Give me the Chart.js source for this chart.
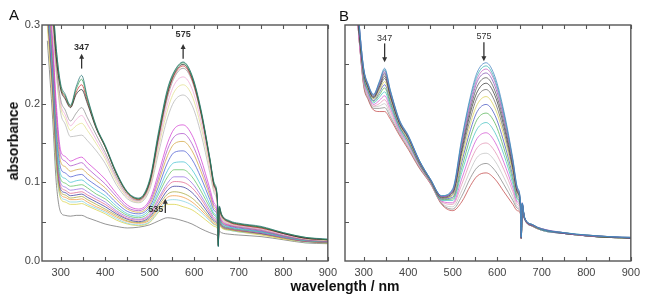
<!DOCTYPE html>
<html>
<head>
<meta charset="utf-8">
<script src="https://cdn.jsdelivr.net/npm/chart.js@4.4.1/dist/chart.umd.min.js"></script>
<style>
  html, body { margin: 0; padding: 0; background: #fff; }
  #fig { position: relative; width: 645px; height: 294px; overflow: hidden; font-family: "Liberation Sans", Arial, sans-serif; }
  .box { position: absolute; top: 0; height: 294px; }
  .lbl { position: absolute; color: #111; white-space: nowrap; line-height: 1; }
  #ytitle { left: 13px; top: 141px; font-size: 14px; font-weight: bold; transform: translate(-50%, -50%) rotate(-90deg); }
  #xtitle { left: 345px; top: 279px; font-size: 14px; font-weight: bold; transform: translateX(-50%); }
</style>
</head>
<body>
<div id="fig">
  <div class="box" style="left:0;width:342px"><canvas id="chartA"></canvas></div>
  <div class="box" style="left:342px;width:303px"><canvas id="chartB"></canvas></div>
  <div class="lbl" style="left:9px;top:7px;font-size:15px">A</div>
  <div class="lbl" style="left:339px;top:8px;font-size:15px">B</div>
  <div class="lbl" id="ytitle">absorbance</div>
  <div class="lbl" id="xtitle">wavelength / nm</div>
</div>
<script>
// wavelength grid (nm) shared by every spectrum
const W = [270, 282, 290, 300, 310, 322, 335, 347, 360, 380, 400, 425, 450, 475, 500, 520, 540, 555, 575, 595, 615, 635, 645, 652, 654, 656, 661, 680, 700, 750, 800, 850, 900];

// panel A: titration spectra, top to bottom at 575 nm
const A01 = [.42,.33,.27,.225,.212,.198,.222,.236,.208,.171,.147,.113,.088,.080,.104,.165,.219,.241,.253,.236,.193,.131,.099,.079,.018,.070,.060,.051,.048,.044,.036,.030,.028];
const A02 = [.41,.33,.27,.222,.210,.197,.219,.231,.206,.170,.146,.112,.087,.079,.102,.162,.217,.240,.252,.235,.191,.130,.097,.078,.020,.068,.059,.050,.047,.043,.036,.030,.027];
const A03 = [.40,.32,.26,.218,.206,.195,.212,.218,.200,.168,.145,.111,.087,.079,.101,.160,.214,.238,.250,.233,.190,.129,.096,.077,.019,.069,.059,.050,.047,.043,.035,.029,.027];
const A04 = [.40,.32,.26,.220,.208,.196,.215,.224,.203,.169,.145,.111,.086,.078,.100,.158,.212,.236,.248,.231,.188,.128,.095,.076,.020,.067,.058,.049,.046,.042,.035,.029,.027];
const A05 = [.39,.31,.25,.205,.192,.178,.188,.195,.182,.160,.138,.107,.084,.077,.098,.155,.208,.233,.245,.229,.186,.126,.094,.075,.022,.066,.057,.049,.046,.042,.035,.029,.027];
const A06 = [.39,.31,.25,.200,.186,.172,.180,.185,.174,.154,.134,.104,.082,.076,.096,.150,.200,.224,.234,.219,.178,.122,.091,.073,.023,.064,.056,.048,.045,.041,.034,.029,.027];
const A07 = [.38,.30,.24,.195,.181,.166,.172,.175,.166,.149,.130,.101,.081,.075,.094,.145,.192,.215,.224,.210,.171,.118,.089,.071,.024,.063,.055,.047,.045,.041,.034,.028,.026];
const A08 = [.38,.30,.24,.188,.174,.158,.159,.160,.153,.140,.124,.097,.079,.074,.091,.138,.182,.203,.211,.198,.162,.112,.086,.069,.025,.062,.054,.047,.044,.040,.033,.028,.026];
const A09 = [.37,.28,.20,.140,.133,.127,.130,.132,.125,.115,.104,.086,.071,.066,.078,.112,.150,.168,.173,.160,.130,.092,.073,.062,.026,.058,.052,.046,.044,.040,.033,.028,.026];
const A10 = [.36,.27,.19,.134,.127,.121,.123,.125,.118,.108,.098,.082,.068,.064,.075,.106,.142,.158,.162,.149,.121,.087,.070,.060,.027,.057,.051,.045,.043,.039,.032,.027,.025];
const A11 = [.35,.26,.18,.126,.120,.114,.116,.117,.111,.102,.093,.078,.066,.062,.072,.101,.134,.149,.152,.140,.114,.083,.067,.058,.028,.056,.050,.045,.043,.039,.032,.027,.025];
const A12 = [.35,.25,.17,.118,.112,.107,.109,.110,.104,.096,.088,.074,.063,.060,.069,.095,.125,.138,.140,.129,.106,.078,.064,.056,.028,.055,.049,.044,.042,.038,.032,.027,.025];
const A13 = [.34,.24,.16,.110,.105,.100,.102,.103,.098,.090,.083,.070,.060,.057,.066,.089,.115,.125,.126,.116,.096,.072,.060,.053,.029,.054,.048,.043,.041,.037,.031,.026,.025];
const A14 = [.34,.24,.15,.104,.099,.095,.096,.097,.093,.085,.079,.067,.058,.055,.063,.085,.107,.116,.116,.107,.089,.068,.058,.051,.029,.053,.047,.042,.040,.037,.031,.026,.024];
const A15 = [.33,.23,.15,.099,.094,.090,.091,.092,.088,.081,.075,.064,.056,.053,.060,.080,.099,.107,.107,.099,.083,.064,.055,.050,.030,.052,.046,.042,.040,.036,.030,.026,.024];
const A16 = [.33,.23,.14,.095,.090,.086,.087,.088,.084,.078,.072,.062,.054,.052,.058,.077,.095,.101,.100,.093,.079,.061,.053,.048,.030,.051,.046,.041,.039,.036,.030,.025,.024];
const A17 = [.32,.22,.14,.091,.087,.083,.084,.085,.081,.075,.069,.060,.053,.050,.056,.073,.090,.095,.094,.087,.074,.058,.051,.047,.030,.050,.045,.041,.039,.035,.030,.025,.024];
const A18 = [.32,.22,.13,.088,.084,.080,.081,.082,.078,.072,.066,.058,.051,.049,.054,.070,.085,.088,.086,.080,.069,.055,.049,.045,.031,.049,.044,.040,.038,.035,.029,.025,.023];
const A19 = [.31,.21,.13,.085,.081,.078,.078,.079,.075,.069,.064,.056,.050,.048,.052,.067,.081,.083,.081,.075,.065,.053,.047,.044,.031,.048,.043,.040,.038,.034,.029,.025,.023];
const A20 = [.31,.21,.12,.082,.078,.075,.075,.076,.072,.067,.062,.054,.048,.046,.050,.064,.077,.078,.076,.071,.062,.051,.046,.043,.031,.047,.043,.039,.037,.034,.029,.024,.023];
const A21 = [.30,.20,.12,.079,.075,.072,.072,.073,.070,.065,.060,.052,.047,.045,.049,.062,.072,.072,.069,.065,.057,.048,.044,.041,.031,.046,.042,.039,.037,.033,.028,.024,.023];
const A22 = [.28,.18,.10,.062,.058,.057,.058,.058,.055,.051,.047,.044,.042,.043,.046,.051,.055,.054,.051,.047,.041,.036,.034,.032,.028,.038,.036,.034,.033,.031,.027,.023,.022];

// panel B: decay spectra, top to bottom at 575 nm
const B01 = [.45,.36,.30,.245,.225,.212,.228,.245,.217,.180,.160,.128,.104,.083,.092,.155,.210,.240,.252,.234,.190,.130,.094,.076,.030,.074,.056,.046,.041,.036,.033,.031,.030];
const B02 = [.45,.36,.30,.244,.224,.211,.227,.243,.216,.179,.159,.128,.104,.083,.091,.153,.207,.236,.248,.230,.187,.128,.093,.076,.031,.073,.056,.046,.040,.036,.033,.031,.030];
const B03 = [.44,.36,.30,.244,.224,.211,.226,.242,.215,.179,.159,.127,.104,.082,.090,.150,.203,.232,.244,.227,.184,.127,.092,.075,.030,.074,.055,.045,.041,.036,.032,.031,.030];
const B04 = [.44,.36,.30,.243,.223,.210,.225,.240,.214,.178,.158,.127,.103,.082,.089,.148,.199,.228,.239,.222,.181,.125,.091,.075,.031,.073,.056,.046,.040,.035,.033,.031,.029];
const B05 = [.44,.35,.29,.242,.222,.209,.223,.238,.212,.177,.158,.127,.103,.082,.088,.144,.194,.222,.233,.216,.176,.122,.090,.074,.030,.072,.055,.045,.040,.036,.032,.030,.030];
const B06 = [.44,.35,.29,.241,.221,.208,.221,.235,.210,.176,.157,.126,.103,.081,.087,.140,.189,.215,.226,.210,.171,.119,.088,.073,.029,.073,.055,.045,.041,.035,.033,.031,.029];
const B07 = [.44,.35,.29,.239,.220,.207,.219,.232,.208,.175,.156,.126,.103,.080,.085,.136,.182,.208,.218,.202,.165,.116,.087,.072,.030,.072,.055,.046,.040,.036,.032,.030,.029];
const B08 = [.43,.35,.29,.238,.219,.206,.216,.228,.206,.174,.154,.125,.102,.080,.083,.130,.175,.199,.209,.194,.159,.112,.085,.071,.029,.071,.055,.045,.040,.035,.032,.030,.029];
const B09 = [.43,.35,.29,.236,.217,.204,.214,.224,.203,.172,.153,.124,.102,.079,.081,.125,.167,.190,.199,.185,.151,.108,.083,.070,.030,.072,.054,.045,.040,.035,.032,.031,.029];
const B10 = [.43,.35,.29,.234,.216,.203,.211,.220,.200,.171,.152,.123,.101,.078,.079,.118,.158,.180,.188,.175,.143,.103,.080,.069,.029,.071,.055,.044,.040,.035,.032,.030,.029];
const B11 = [.43,.35,.29,.233,.214,.201,.208,.215,.197,.169,.150,.123,.101,.077,.077,.112,.148,.168,.176,.163,.135,.098,.078,.067,.029,.071,.054,.045,.039,.035,.032,.030,.029];
const B12 = [.43,.34,.28,.230,.212,.199,.204,.210,.194,.167,.149,.122,.100,.076,.074,.104,.137,.156,.163,.151,.125,.093,.075,.066,.028,.070,.055,.044,.040,.035,.032,.030,.029];
const B13 = [.42,.34,.28,.228,.210,.197,.200,.205,.190,.165,.147,.121,.100,.075,.072,.097,.127,.144,.150,.139,.116,.088,.072,.064,.029,.070,.054,.044,.039,.035,.032,.030,.029];
const B14 = [.42,.34,.28,.226,.209,.196,.197,.200,.186,.164,.145,.120,.099,.074,.069,.089,.116,.132,.137,.127,.106,.082,.069,.063,.028,.071,.054,.044,.039,.035,.032,.030,.029];
const B15 = [.42,.34,.28,.224,.207,.194,.194,.195,.183,.162,.144,.119,.099,.073,.066,.082,.106,.119,.124,.115,.097,.077,.067,.061,.028,.070,.054,.044,.039,.035,.032,.030,.029];
const B16 = [.42,.34,.28,.222,.205,.192,.190,.190,.180,.160,.142,.118,.098,.072,.064,.075,.096,.108,.112,.104,.088,.072,.064,.060,.028,.070,.054,.044,.039,.035,.032,.030,.029];

const spectraA = [A01, A02, A03, A04, A05, A06, A07, A08, A09, A10, A11, A12, A13, A14, A15, A16, A17, A18, A19, A20, A21, A22];
const spectraB = [B01, B02, B03, B04, B05, B06, B07, B08, B09, B10, B11, B12, B13, B14, B15, B16];

const colorsA = ['#1f6f6f', '#2e9a4a', '#222222', '#cc2a2a', '#8c8c8c', '#eea6d6', '#e2e08a', '#b4b4b4', '#d23ad2', '#a848c8', '#d0a23a',
  '#4656d0', '#3fc0d0', '#5cc05c', '#9368e0', '#e0608a', '#34349a', '#a5a535', '#f0963e', '#7fd0e2', '#d8d040', '#6e6e6e'];
const colorsB = ['#4080c0', '#30b0b0', '#c060c0', '#8050b0', '#505050', '#303030', '#606060', '#d8d050', '#4050c0', '#50b050',
  '#40c0c0', '#d050d0', '#e090b0', '#c0c0c0', '#808080', '#c04040'];

// tick marks
const xTickMarks = [300, 350, 400, 450, 500, 550, 600, 650, 700, 750, 800, 850, 900];
const yTickMarks = [0.05, 0.1, 0.15, 0.2, 0.25];

const notesA = [
  { nm: 347, text: '347', ty: 0.272, from: 0.2446, to: 0.2636, bold: true },
  { nm: 575, text: '575', ty: 0.288, from: 0.257, to: 0.276, bold: true },
  { nm: 535, text: '535', ty: 0.065, from: 0.061, to: 0.079, bold: true, side: 'left' }
];
const notesB = [
  { nm: 347, text: '347', ty: 0.283, from: 0.2766, to: 0.2526 },
  { nm: 570, text: '575', ty: 0.2855, from: 0.278, to: 0.254 }
];

spectraA.concat(spectraB).forEach((s, i) => { if (s.length !== W.length) console.error('bad length', i, s.length); });

const tickFont = { family: '"Liberation Sans Narrow", "Liberation Sans", Arial, sans-serif', size: 11 };

// inward tick marks, frame and arrow labels, placed through the chart's scales
const frameTicks = {
  id: 'frameTicks',
  afterDatasetsDraw(chart, args, opts) {
    const { ctx, chartArea: a, scales: { x, y } } = chart;
    ctx.save();
    ctx.strokeStyle = '#555';
    ctx.lineWidth = 1.4;
    ctx.strokeRect(a.left, a.top, a.right - a.left, a.bottom - a.top);
    ctx.lineWidth = 1.1;
    ctx.beginPath();
    xTickMarks.forEach(nm => {
      const px = Math.round(x.getPixelForValue(nm)) + 0.5;
      ctx.moveTo(px, a.bottom); ctx.lineTo(px, a.bottom - 4);
      ctx.moveTo(px, a.top); ctx.lineTo(px, a.top + 4);
    });
    yTickMarks.forEach(v => {
      const py = Math.round(y.getPixelForValue(v)) + 0.5;
      ctx.moveTo(a.left, py); ctx.lineTo(a.left + 4, py);
    });
    ctx.stroke();

    (opts.notes || []).forEach(n => {
      const px = x.getPixelForValue(n.nm);
      const y0 = y.getPixelForValue(n.from);
      const y1 = y.getPixelForValue(n.to);
      const dir = y1 < y0 ? 1 : -1;
      ctx.strokeStyle = '#333';
      ctx.fillStyle = '#333';
      ctx.lineWidth = 1.3;
      ctx.beginPath();
      ctx.moveTo(px, y0);
      ctx.lineTo(px, y1 + dir * 4);
      ctx.stroke();
      ctx.beginPath();
      ctx.moveTo(px, y1);
      ctx.lineTo(px - 2.5, y1 + dir * 5);
      ctx.lineTo(px + 2.5, y1 + dir * 5);
      ctx.closePath();
      ctx.fill();
      ctx.font = (n.bold ? 'bold ' : '') + '9px "Liberation Sans", Arial, sans-serif';
      ctx.textBaseline = 'middle';
      if (n.side === 'left') {
        ctx.textAlign = 'right';
        ctx.fillText(n.text, px - 2, y.getPixelForValue(n.ty));
      } else {
        ctx.textAlign = 'center';
        ctx.fillText(n.text, px, y.getPixelForValue(n.ty));
      }
    });
    ctx.restore();
  }
};

function makeChart(id, spectra, colors, notes, showY, yWidth, padRight) {
  const ctx = document.getElementById(id).getContext('2d');
  return new Chart(ctx, {
    type: 'line',
    data: {
      datasets: spectra.map((s, i) => ({
        data: W.map((nm, j) => ({ x: nm, y: s[j] })),
        borderColor: colors[i] + 'd0',
        borderWidth: 0.9,
        pointRadius: 0,
        fill: false,
        cubicInterpolationMode: 'monotone'
      }))
    },
    options: {
      responsive: true,
      maintainAspectRatio: false,
      animation: false,
      events: [],
      layout: { padding: { top: 25, right: padRight, left: 0, bottom: 0 } },
      plugins: {
        legend: { display: false },
        tooltip: { enabled: false },
        frameTicks: { notes: notes }
      },
      scales: {
        x: {
          type: 'linear',
          min: 258,
          max: 900,
          grid: { display: false, drawTicks: false },
          border: { display: false },
          ticks: { stepSize: 100, includeBounds: false, maxRotation: 0, autoSkip: false, padding: 5, color: '#444', font: tickFont },
          afterFit: (scale) => { scale.height = 33; }
        },
        y: {
          min: 0,
          max: 0.3,
          grid: { display: false, drawTicks: false },
          border: { display: false },
          ticks: { display: showY, stepSize: 0.1, padding: 2, color: '#444', font: tickFont, callback: (v) => Number(v).toFixed(1) },
          afterFit: (scale) => { scale.width = yWidth; }
        }
      }
    },
    plugins: [frameTicks]
  });
}

makeChart('chartA', spectraA, colorsA, notesA, true, 42, 9);
makeChart('chartB', spectraB, colorsB, notesB, false, 3, 8);
</script>
</body>
</html>
